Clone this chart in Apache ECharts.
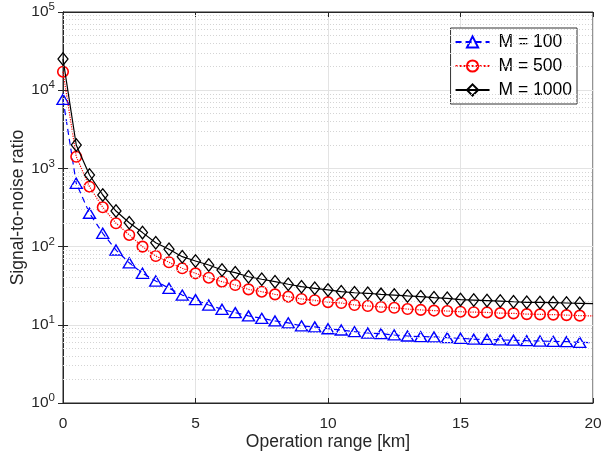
<!DOCTYPE html>
<html>
<head>
<meta charset="utf-8">
<script src="https://cdn.jsdelivr.net/npm/echarts@6/dist/echarts.min.js"></script>
<style>
  html, body { margin: 0; padding: 0; background: #fff; }
  #chart { width: 601px; height: 454px; }
</style>
</head>
<body>
<div id="chart"></div>
<script>
// operation range [km], one point every 0.5 km
const ranges = [0, 0.5, 1, 1.5, 2, 2.5, 3, 3.5, 4, 4.5, 5, 5.5, 6, 6.5, 7, 7.5, 8, 8.5, 9, 9.5,
    10, 10.5, 11, 11.5, 12, 12.5, 13, 13.5, 14, 14.5, 15, 15.5, 16, 16.5, 17, 17.5, 18, 18.5, 19, 19.5, 20];

const snrM100 = [7650, 645, 267, 148, 90.5, 62, 45.6, 36.3, 29.3, 24, 21, 17.9, 15.8, 14.3, 13, 12.1, 11.2, 10.6, 9.7, 9.4,
    8.9, 8.58, 8.16, 7.85, 7.7, 7.41, 7.19, 7.05, 7.0, 6.84, 6.72, 6.55, 6.5, 6.4, 6.35, 6.26, 6.2, 6.15, 6.08, 5.97, 5.9];
const snrM500 = [17250, 1410, 583, 318, 199, 141, 100, 75.8, 63, 52.8, 45.5, 40, 35.6, 32.3, 28.4, 26.5, 24.5, 22.9, 21.4, 20.6,
    19.5, 19.0, 17.9, 17.4, 16.9, 16.5, 15.9, 15.5, 15.2, 15.0, 14.7, 14.5, 14.4, 14.1, 14.0, 13.7, 13.6, 13.5, 13.3, 13.1, 13.0];
const snrM1000 = [25000, 1990, 824, 457, 285, 202, 151, 112, 92.3, 74.3, 65.5, 58.2, 50.2, 46.4, 41.2, 38.2, 35.6, 33, 30.7, 29.3,
    27.9, 26.5, 25.7, 25.3, 24.5, 24, 23.4, 22.9, 22.2, 21.8, 21.0, 20.7, 20.4, 20.1, 19.7, 19.4, 19.3, 19.2, 19.0, 18.8, 18.6];

const seriesNames = ['M = 100', 'M = 500', 'M = 1000'];
const yDecades = [1, 10, 100, 1000, 10000, 100000];

const font = "'Liberation Sans', Arial, Helvetica, sans-serif";
const axisColor = '#262626';

// pair up x/y, last point (20 km) has no marker
function toData(ys) {
    return ys.map((y, i) => {
        if (i === ys.length - 1) {
            return { value: [ranges[i], y], symbol: 'none' };
        }
        return [ranges[i], y];
    });
}

// dotted minor grid lines at 2..9 inside each decade
const minorLines = [];
yDecades.slice(0, -1).forEach(d => {
    for (let k = 2; k <= 9; k++) {
        minorLines.push({ yAxis: d * k });
    }
});

const chart = echarts.init(document.getElementById('chart'));

const option = {
    backgroundColor: '#fff',
    animation: false,
    textStyle: { fontFamily: font },
    grid: {
        left: 63, right: 8, top: 12, bottom: 51,
        outerBoundsMode: 'none',
        containLabel: false,
        show: true, borderColor: axisColor, borderWidth: 1, backgroundColor: '#fff'
    },
    legend: {
        data: seriesNames,
        orient: 'vertical',
        right: 24,
        top: 28,
        itemWidth: 34,
        itemHeight: 14,
        itemGap: 6,
        padding: [5, 5, 5, 4],
        backgroundColor: '#fff',
        borderColor: '#333',
        borderWidth: 1,
        borderRadius: 0,
        textStyle: {
            fontSize: 17.5, color: '#000', fontFamily: font,
            backgroundColor: '#fff', padding: [0, 0, 0, 4]
        }
    },
    xAxis: [{
        type: 'value',
        min: 0, max: 20, interval: 5,
        name: 'Operation range [km]',
        nameLocation: 'middle',
        nameGap: 30,
        nameMoveOverlap: false,
        nameTextStyle: { fontSize: 17.5, color: axisColor },
        axisLine: { show: true, lineStyle: { color: axisColor } },
        axisTick: { inside: true, length: 5, lineStyle: { color: axisColor } },
        axisLabel: { fontSize: 15.5, color: axisColor, margin: 13 },
        splitLine: { show: true, lineStyle: { color: '#e3e3e3' } }
    }, {
        type: 'value',
        position: 'top',
        min: 0, max: 20, interval: 5,
        axisLine: { show: true, lineStyle: { color: axisColor } },
        axisTick: { inside: true, length: 5, lineStyle: { color: axisColor } },
        axisLabel: { show: false },
        splitLine: { show: false }
    }],
    yAxis: [{
        type: 'log',
        logBase: 10,
        min: 1, max: 100000,
        splitNumber: 5,
        name: 'Signal-to-noise ratio',
        nameLocation: 'middle',
        nameGap: 36,
        nameMoveOverlap: false,
        nameTextStyle: { fontSize: 17.5, color: axisColor },
        axisLine: { show: true, lineStyle: { color: axisColor } },
        axisTick: { inside: true, length: 5, lineStyle: { color: axisColor } },
        axisLabel: {
            margin: 8,
            color: axisColor,
            formatter: v => '{b|10}{s|' + Math.round(Math.log10(v)) + '}',
            rich: {
                b: { fontSize: 15.5, color: axisColor, fontFamily: font },
                s: { fontSize: 11.5, color: axisColor, fontFamily: font, padding: [0, 0, 10, 0] }
            }
        },
        splitLine: { show: true, lineStyle: { color: '#e3e3e3' } }
    }, {
        type: 'log',
        logBase: 10,
        min: 1, max: 100000,
        splitNumber: 5,
        position: 'right',
        axisLine: { show: true, lineStyle: { color: axisColor } },
        axisTick: { inside: true, length: 5, lineStyle: { color: axisColor } },
        axisLabel: { show: false },
        splitLine: { show: false }
    }],
    series: [
        {
            name: 'minor-grid',
            type: 'line',
            data: [],
            silent: true,
            z: 1,
            markLine: {
                silent: true,
                symbol: 'none',
                label: { show: false },
                lineStyle: { color: '#d4d4d4', type: [1, 2], width: 1 },
                data: minorLines
            }
        },
        {
            name: seriesNames[0],
            type: 'line',
            data: toData(snrM100),
            symbol: 'triangle',
            symbolSize: [12, 10],
            showAllSymbol: true,
            z: 3,
            lineStyle: { color: '#0000ff', width: 1.2, type: [6, 4] },
            itemStyle: { color: 'rgba(255,255,255,0)', borderColor: '#0000ff', borderWidth: 1.4 }
        },
        {
            name: seriesNames[1],
            type: 'line',
            data: toData(snrM500),
            symbol: 'circle',
            symbolSize: 10.5,
            showAllSymbol: true,
            z: 4,
            lineStyle: { color: '#ff0000', width: 1.2, type: 'dotted' },
            itemStyle: { color: 'rgba(255,255,255,0)', borderColor: '#ff0000', borderWidth: 1.6 }
        },
        {
            name: seriesNames[2],
            type: 'line',
            data: toData(snrM1000),
            symbol: 'diamond',
            symbolSize: [10, 12.5],
            showAllSymbol: true,
            z: 5,
            lineStyle: { color: '#000000', width: 1.2 },
            itemStyle: { color: 'rgba(255,255,255,0)', borderColor: '#000000', borderWidth: 1.3 }
        }
    ]
};

chart.setOption(option);
</script>
</body>
</html>
